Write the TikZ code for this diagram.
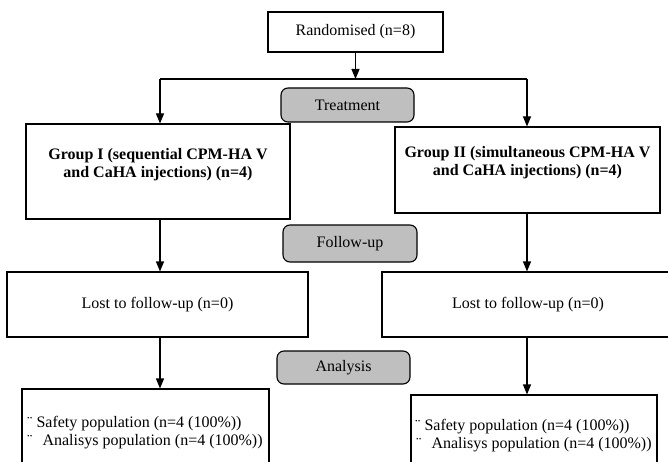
\documentclass[tikz,border=0pt]{standalone}
\usepackage{fontspec}
\setmainfont{Liberation Serif}
\usetikzlibrary{arrows.meta}

\tikzset{
  txt/.style={font=\fontsize{16}{18}\selectfont},
  box/.style={draw, rectangle, line width=1.1pt, inner sep=0pt, txt},
  stage/.style={draw, rectangle, rounded corners=7pt, fill=black!25, line width=1.1pt, inner sep=0pt, txt},
  head/.style={font=\fontsize{16}{18}\selectfont\bfseries, align=center, inner sep=0pt},
  line/.style={line width=1.1pt},
  arrow/.style={line, -{Triangle[length=10pt,width=8pt]}},
}

\begin{document}
\begin{tikzpicture}[x=1pt, y=-1pt]
\useasboundingbox (0,0) rectangle (668,462);
\clip (0,0) rectangle (668,462);

% allocation
\node[box, minimum width=175pt, minimum height=40pt] (rand) at (355.5,32) {Randomised (n=8)};
\coordinate (split) at (355.5,79);
\coordinate (splitA) at (160,79);
\coordinate (splitB) at (527,79);
\node[stage, minimum width=133pt, minimum height=34pt] (treat) at (347.5,105) {Treatment};

% groups
\node[box, minimum width=264pt, minimum height=95pt] (grpA) at (158,171.5) {};
\node[head] (grpAtxt) at (158,165) {Group I (sequential CPM-HA V\\and CaHA injections) (n=4)};
\node[box, minimum width=265pt, minimum height=86pt] (grpB) at (527.5,170) {};
\node[head] (grpBtxt) at (527.5,162.5) {Group II (simultaneous CPM-HA V\\and CaHA injections) (n=4)};

% follow-up
\node[stage, minimum width=134pt, minimum height=37pt] (follow) at (350,243.5) {Follow-up};
\node[box, minimum width=301pt, minimum height=65pt] (lostA) at (157.5,304.5) {Lost to follow-up (n=0)};
\node[box, minimum width=292pt, minimum height=65pt] (lostB) at (528,304.5) {Lost to follow-up (n=0)};

% analysis
\node[stage, minimum width=133pt, minimum height=33pt] (anal) at (343.5,367.5) {Analysis};
\node[box, minimum width=247pt, minimum height=91pt] (popA) at (145.5,434.5) {};
\node[txt, align=left, anchor=west, inner sep=0pt] (popAtxt) at (27,432.5) {¨ Safety population (n=4 (100\%))\\¨\hspace{6pt} Analisys population (n=4 (100\%))};
\node[box, minimum width=246pt, minimum height=85pt] (popB) at (534,437.5) {};
\node[txt, align=left, anchor=west, inner sep=0pt] (popBtxt) at (415,436) {¨ Safety population (n=4 (100\%))\\\hspace{1pt}¨\hspace{6pt} Analisys population (n=4 (100\%))};

\draw[arrow] (rand) -- (split);
\draw[line] (splitA) -- (splitB);
\draw[arrow] (splitA) -- (splitA |- grpA.north);
\draw[arrow] (splitB) -- (splitB |- grpB.north);
\draw[arrow] (grpA.south -| splitA) -- (lostA.north -| splitA);
\draw[arrow] (grpB.south -| splitB) -- (lostB.north -| splitB);
\draw[arrow] (lostA.south -| splitA) -- (popA.north -| splitA);
\draw[arrow] (lostB.south -| splitB) -- (popB.north -| splitB);
\end{tikzpicture}
\end{document}
